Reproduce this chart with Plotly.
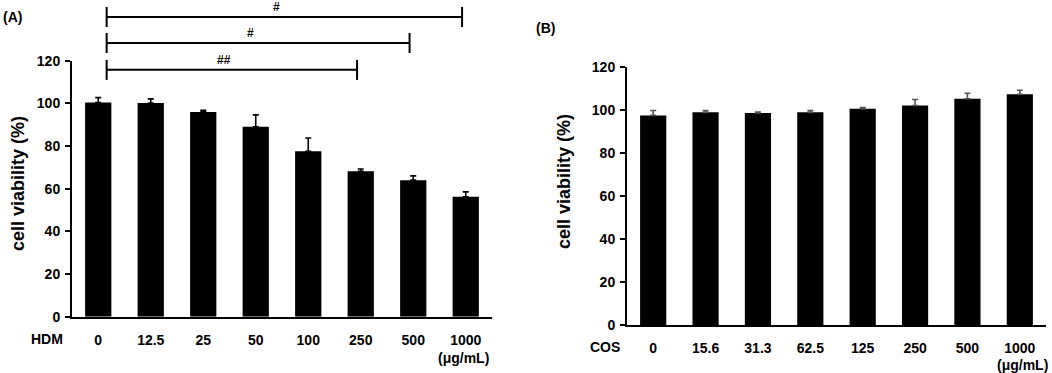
import plotly.graph_objects as go

# ---------------- data ----------------
hdm_labels = ["0", "12.5", "25", "50", "100", "250", "500", "1000"]
hdm_values = [100.4, 100.2, 96.0, 89.0, 77.5, 68.2, 64.0, 56.2]
hdm_errors = [2.3, 1.9, 0.8, 5.6, 6.3, 1.0, 2.0, 2.3]

cos_labels = ["0", "15.6", "31.3", "62.5", "125", "250", "500", "1000"]
cos_values = [97.5, 98.9, 98.6, 98.9, 100.6, 102.1, 105.2, 107.3]
cos_errors = [2.3, 0.9, 0.5, 0.9, 0.5, 2.8, 2.6, 1.9]

# significance brackets for panel A: (from index, to index, height in %, label)
sig_brackets = [(0, 7, 140.5, "#"), (0, 6, 128.3, "#"), (0, 5, 115.7, "##")]

y_ticks = [0, 20, 40, 60, 80, 100, 120]

# ---------------- layout helpers ----------------
W, H = 1052, 373
FONT = "Liberation Sans, Arial, sans-serif"

def px(x):
    return x / W

def py(y):
    return 1 - y / H

n = len(hdm_labels)

fig = go.Figure()

fig.add_trace(go.Bar(
    x=list(range(n)), y=hdm_values, width=0.5,
    marker=dict(color="black", line=dict(width=0)),
    error_y=dict(type="data", array=hdm_errors, arrayminus=[0] * n,
                 symmetric=False, color="black", thickness=1.6, width=3),
    xaxis="x", yaxis="y", showlegend=False,
))
fig.add_trace(go.Bar(
    x=list(range(n)), y=cos_values, width=0.5,
    marker=dict(color="black", line=dict(width=0)),
    error_y=dict(type="data", array=cos_errors, arrayminus=[0] * n,
                 symmetric=False, color="#555555", thickness=1.6, width=3),
    xaxis="x2", yaxis="y2", showlegend=False,
))

tickfont = dict(family=FONT, size=14, color="black", weight="bold")

def xaxis_cfg(domain, labels):
    return dict(domain=domain, range=[-0.5, n - 0.5], tickmode="array",
                tickvals=list(range(n)), ticktext=labels, showline=True,
                linecolor="black", linewidth=2, ticks="", showgrid=False,
                zeroline=False, tickfont=tickfont, ticklabelstandoff=9,
                automargin=False, fixedrange=True)

def yaxis_cfg(domain, anchor):
    return dict(domain=domain, anchor=anchor, range=[0, 120], tickmode="array",
                tickvals=y_ticks, showline=True, linecolor="black", linewidth=2,
                ticks="outside", ticklen=5, tickwidth=2, tickcolor="black",
                showgrid=False, zeroline=False, tickfont=tickfont,
                ticklabelstandoff=2, automargin=False, fixedrange=True)

fig.update_layout(
    template="none",
    width=W, height=H, margin=dict(l=0, r=0, t=0, b=0, autoexpand=False),
    paper_bgcolor="white", plot_bgcolor="white",
    font=dict(family=FONT, color="black"),
    xaxis=dict(anchor="y", **xaxis_cfg([px(72), px(492)], hdm_labels)),
    yaxis=yaxis_cfg([py(316.7), py(60.7)], "x"),
    xaxis2=dict(anchor="y2", **xaxis_cfg([px(627), px(1046)], cos_labels)),
    yaxis2=yaxis_cfg([py(325), py(67)], "x2"),
    bargap=0.5,
)

# ---------------- significance brackets (panel A) ----------------
def xdom(i):
    return (i + 0.5) / n

def ydom(v):
    return v / 120.0

tick_half = 4.7  # half height of bracket end ticks, in %
for i0, i1, h, lab in sig_brackets:
    xa = i0 + 0.16
    xb = i1 - 0.07
    line = dict(color="black", width=2)
    fig.add_shape(type="line", xref="x domain", yref="y domain",
                  x0=xdom(xa), x1=xdom(xb), y0=ydom(h), y1=ydom(h), line=line)
    for xe in (xa, xb):
        fig.add_shape(type="line", xref="x domain", yref="y domain",
                      x0=xdom(xe), x1=xdom(xe), y0=ydom(h - tick_half),
                      y1=ydom(h + tick_half), line=line)
    fig.add_annotation(x=xdom((xa + xb) / 2 - 0.15), y=ydom(h),
                       xref="x domain", yref="y domain", xanchor="center",
                       text=lab, showarrow=False, yanchor="bottom", yshift=1,
                       font=dict(family=FONT, size=12, color="black", weight="bold"))

# ---------------- texts ----------------
txt = dict(family=FONT, color="black", weight="bold")

def paper_text(x, y, text, size=14, angle=0):
    fig.add_annotation(x=px(x), y=py(y), xref="paper", yref="paper", text=text,
                       xanchor="center", yanchor="middle", textangle=angle,
                       showarrow=False, font=dict(size=size, **txt))

paper_text(12, 17, "(A)")
paper_text(545, 28, "(B)")
paper_text(18, 184, "cell viability (%)", size=18, angle=-90)
paper_text(564, 182, "cell viability (%)", size=18, angle=-90)
paper_text(47, 339, "HDM")
paper_text(605, 347, "COS")

fig.add_annotation(x=n - 1, y=0, xref="x", yref="y", text="(μg/mL)",
                   xanchor="center", yanchor="middle",
                   showarrow=False, yshift=-41, xshift=-2,
                   font=dict(size=14, **txt))
fig.add_annotation(x=n - 1, y=0, xref="x2", yref="y2", text="(μg/mL)",
                   xanchor="center", yanchor="middle",
                   showarrow=False, yshift=-40, xshift=3,
                   font=dict(size=14, **txt))

fig.write_html("out.html", config={"displayModeBar": False},
               post_script="document.body.style.margin='0';")
